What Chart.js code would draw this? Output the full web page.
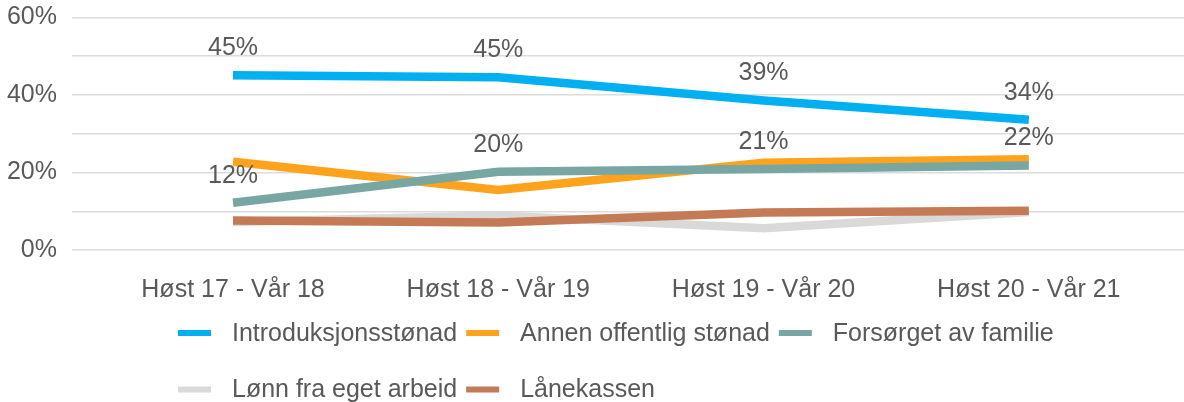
<!DOCTYPE html>
<html>
<head>
<meta charset="utf-8">
<script src="https://cdn.jsdelivr.net/npm/chart.js@4/dist/chart.umd.min.js"></script>
<style>
  html, body { margin: 0; padding: 0; background: #fff; }
  #wrap { width: 1184px; height: 402px; }
</style>
</head>
<body>
<div id="wrap"><canvas id="myChart" width="1184" height="402"></canvas></div>
<script>
// data (%)
const categories = ["Høst 17 - Vår 18", "Høst 18 - Vår 19", "Høst 19 - Vår 20", "Høst 20 - Vår 21"];
const introduksjon = [45.1, 44.6, 38.6, 33.6];
const annenOffentlig = [22.8, 15.5, 22.5, 23.4];
const forsorget = [12.2, 20.2, 20.9, 21.8];
const lonn = [7.2, 8.9, 5.6, 9.8];
const lanekassen = [7.6, 7.1, 9.7, 10.1];
const yTicks = [0, 20, 40, 60];

const textColor = "#595959";
const fontFamily = "'Liberation Sans', Arial, sans-serif";
const fontSize = 25;

const series = [
  { label: "Introduksjonsstønad", data: introduksjon, color: "#00B0F0", showValues: true },
  { label: "Annen offentlig stønad", data: annenOffentlig, color: "#FFA21C", showValues: false },
  { label: "Forsørget av familie", data: forsorget, color: "#78A6A2", showValues: true },
  { label: "Lønn fra eget arbeid", data: lonn, color: "#D9D9D9", showValues: false },
  { label: "Lånekassen", data: lanekassen, color: "#C47B55", showValues: false },
];

// value labels above the points
const valueLabels = {
  id: "valueLabels",
  afterDatasetsDraw(chart) {
    const ctx = chart.ctx;
    ctx.save();
    ctx.font = fontSize + "px " + fontFamily;
    ctx.fillStyle = textColor;
    ctx.textAlign = "center";
    ctx.textBaseline = "middle";
    chart.data.datasets.forEach((ds, i) => {
      if (!ds.showValues) return;
      chart.getDatasetMeta(i).data.forEach((pt, j) => {
        ctx.fillText(Math.round(ds.data[j].y) + "%", pt.x, pt.y - 27);
      });
    });
    ctx.restore();
  }
};

// legend in two rows under the axis
const bottomLegend = {
  id: "bottomLegend",
  afterDraw(chart) {
    const ctx = chart.ctx;
    ctx.save();
    ctx.font = fontSize + "px " + fontFamily;
    ctx.textBaseline = "middle";
    ctx.textAlign = "left";
    let x = 178, y = 333;
    chart.data.datasets.forEach((ds) => {
      const w = 54 + ctx.measureText(ds.label).width;
      if (x + w > 1100) { x = 178; y += 56.5; }
      ctx.fillStyle = ds.borderColor;
      ctx.fillRect(x, y - 3, 33, 6);
      ctx.fillStyle = textColor;
      ctx.fillText(ds.label, x + 54, y + 1);
      x += w + 9;
    });
    ctx.restore();
  }
};

new Chart(document.getElementById("myChart"), {
  type: "line",
  data: {
    datasets: series.map((s, i) => ({
      label: s.label,
      data: s.data.map((v, k) => ({ x: k, y: v })),
      borderColor: s.color,
      backgroundColor: s.color,
      borderWidth: 8.5,
      pointRadius: 0,
      tension: 0,
      order: series.length - i,
      showValues: s.showValues,
    })),
  },
  options: {
    responsive: false,
    animation: false,
    layout: { padding: { top: 17.5, right: 0, bottom: 0, left: 0 } },
    plugins: {
      legend: { display: false },
      tooltip: { enabled: false },
    },
    scales: {
      x: {
        type: "linear",
        min: -0.607,
        max: 3.585,
        grid: { display: false },
        border: { display: false },
        afterBuildTicks: (scale) => { scale.ticks = categories.map((c, i) => ({ value: i })); },
        afterFit: (scale) => { scale.height = 152; scale.paddingLeft = 0; scale.paddingRight = 0; },
        ticks: {
          autoSkip: false,
          maxRotation: 0,
          padding: 17,
          color: textColor,
          font: { family: fontFamily, size: fontSize },
          callback: (v) => categories[v],
        },
      },
      y: {
        min: 0,
        max: 60,
        border: { display: false },
        grid: { color: "#dcdcdc", lineWidth: 1.5, drawTicks: false },
        afterFit: (scale) => { scale.width = 72; scale.paddingTop = 0; scale.paddingBottom = 0; },
        ticks: {
          stepSize: 10,
          padding: 15,
          color: textColor,
          font: { family: fontFamily, size: fontSize },
          callback: (v) => (yTicks.includes(v) ? v + "%" : ""),
        },
      },
    },
  },
  plugins: [valueLabels, bottomLegend],
});
</script>
</body>
</html>
